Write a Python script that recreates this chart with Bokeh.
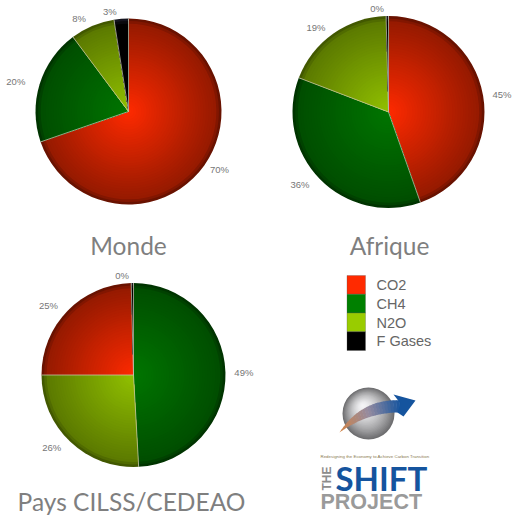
import math
from bokeh.plotting import figure
from bokeh.models import Range1d
from bokeh.core.properties import value
from bokeh.embed import file_html
from bokeh.resources import INLINE

# ---- data ----
gases = ["CO2", "CH4", "N2O", "F Gases"]
monde_gases = ["CO2", "CH4", "N2O", "F Gases"]
monde_values = [69.7, 20.1, 7.7, 2.5]
monde_labels = ["70%", "20%", "8%", "3%"]
afrique_gases = ["CO2", "CH4", "N2O", "F Gases"]
afrique_values = [44.6, 36.2, 18.8, 0.4]
afrique_labels = ["45%", "36%", "19%", "0%"]
cilss_gases = ["CH4", "N2O", "CO2", "F Gases"]
cilss_values = [49.1, 25.9, 24.6, 0.4]
cilss_labels = ["49%", "26%", "25%", "0%"]
titles = ["Monde", "Afrique", "Pays CILSS/CEDEAO"]

# ---- styles ----
STOPS = {
    "CO2": ((255, 42, 0), (150, 26, 0), (105, 18, 0)),
    "CH4": ((0, 118, 0), (0, 78, 0), (0, 52, 0)),
    "N2O": ((146, 194, 0), (92, 122, 0), (66, 88, 0)),
    "F Gases": ((0, 0, 0), (0, 0, 0), (20, 20, 30)),
}
SWATCH = {"CO2": "#ff2a00", "CH4": "#008000", "N2O": "#99cc00", "F Gases": "#000000"}
W, H = 513, 515
Y = lambda y: 515 - y

p = figure(width=W, height=H, output_backend="svg", toolbar_location=None,
           x_range=Range1d(0, W), y_range=Range1d(0, H),
           min_border=0, outline_line_color=None)
p.axis.visible = False
p.grid.visible = False
p.background_fill_color = "#ffffff"
p.border_fill_color = "#ffffff"


def col(stops, t):
    a, b, c = stops
    if t < 0.95:
        u = t / 0.95
        v = [a[i] + (b[i] - a[i]) * u for i in range(3)]
    else:
        u = (t - 0.95) / 0.05
        v = [b[i] + (c[i] - b[i]) * u for i in range(3)]
    return "#%02x%02x%02x" % tuple(int(round(x)) for x in v)


def pie(cx, cy, r, names, vals, labels):
    total = sum(vals)
    cy_d = Y(cy)
    start = 0.0
    bounds = []
    for name, v, lab in zip(names, vals, labels):
        end = start + v / total * 360
        # clockwise from 12 o'clock
        a0 = math.radians(90 - end)
        a1 = math.radians(90 - start)
        N = 36
        for k in range(N, 0, -1):
            t = k / N
            p.wedge(x=[cx], y=[cy_d], radius=r * t, start_angle=a0, end_angle=a1,
                    fill_color=col(STOPS[name], t), line_color=None)
        mid = math.radians((start + end) / 2)
        sx, cs = math.sin(mid), math.cos(mid)
        shift = 10 if -0.2 < sx < 0 else (6 if sx < 0 else 0)
        lx = cx + 1.2 * r * sx - shift
        ly = cy_d + 1.08 * r * cs
        p.text(x=[lx], y=[ly], text=[lab], text_align="center", text_baseline="middle",
               text_font=value("Liberation Sans"), text_font_size="9.5px", text_color="#767676")
        bounds.append(start)
        start = end
    for s in bounds:
        a = math.radians(s)
        p.segment(x0=[cx], y0=[cy_d], x1=[cx + r * math.sin(a)], y1=[cy_d + r * math.cos(a)],
                  line_color="#c8c8b0", line_alpha=0.75, line_width=1)


pie(128, 111, 93, monde_gases, monde_values, monde_labels)
pie(388, 111.5, 96, afrique_gases, afrique_values, afrique_labels)
pie(133, 374.5, 92, cilss_gases, cilss_values, cilss_labels)

# ---- titles ----
for t, x, y in zip(titles, [128, 389, 131], [245, 245, 501]):
    p.text(x=[x], y=[Y(y)], text=[t], text_align="center", text_baseline="middle",
           text_font=value("Lato"), text_font_size="24.5px", text_color="#7f7f7f")

# ---- legend ----
for i, g in enumerate(gases):
    top = 275 + i * 18.75
    p.quad(left=[346.5], right=[365], top=[Y(top)], bottom=[Y(top + 18.75)],
           fill_color=SWATCH[g], line_color="#555555", line_alpha=0.5, line_width=0.6)
    p.text(x=[376], y=[Y(top + 9.5)], text=[g], text_align="left", text_baseline="middle",
           text_font=value("Liberation Sans"), text_font_size="14.5px", text_color="#666666")

# ---- logo ----
for k in range(26, 0, -1):
    t = k / 26
    g = int(245 - 135 * t ** 1.6)
    p.circle(x=[368 - 6 * (1 - t)], y=[Y(413 - 8 * (1 - t))], radius=26 * t,
             fill_color="#%02x%02x%02x" % (g, g, g + 2), line_color=None)

def bez(t, a, b, c):
    return ((1 - t) ** 2 * a[0] + 2 * t * (1 - t) * b[0] + t * t * c[0],
            (1 - t) ** 2 * a[1] + 2 * t * (1 - t) * b[1] + t * t * c[1])

n = 24
for i in range(n):
    t0, t1 = i / n, (i + 1.15) / n
    a0 = bez(t0, (339, 432), (362, 397), (402, 400))
    a1 = bez(t1, (339, 432), (362, 397), (402, 400))
    b1 = bez(t1, (339, 432), (368, 411), (402, 412))
    b0 = bez(t0, (339, 432), (368, 411), (402, 412))
    u = i / (n - 1)
    if u < 0.5:
        v = u * 2
        c = (int(208 + (150 - 208) * v), int(130 + (140 - 130) * v), int(70 + (160 - 70) * v))
    else:
        v = (u - 0.5) * 2
        c = (int(150 + (21 - 150) * v), int(140 + (84 - 140) * v), int(160 + (158 - 160) * v))
    p.patch(x=[a0[0], a1[0], b1[0], b0[0]], y=[Y(a0[1]), Y(a1[1]), Y(b1[1]), Y(b0[1])],
            fill_color="#%02x%02x%02x" % c, line_color=None)
p.patch(x=[393, 415, 403, 397, 400], y=[Y(394), Y(400), Y(416), Y(412), Y(403)],
        fill_color="#15549e", line_color=None)

p.text(x=[320], y=[Y(455.5)], text=["Redesigning the Economy to Achieve Carbon Transition"],
       text_align="left", text_baseline="middle", text_font=value("Liberation Sans"),
       text_font_size="4.4px", text_color="#8a7a50")
p.text(x=[335], y=[Y(477)], text=["SHIFT"], text_align="left", text_baseline="middle",
       text_font=value("Lato"), text_font_style="bold",
       text_font_size="33px", text_color="#15549e")
p.text(x=[326], y=[Y(478)], text=["THE"], text_align="center", text_baseline="middle", angle=math.pi / 2,
       text_font=value("Liberation Sans"), text_font_style="bold",
       text_font_size="12px", text_color="#8c8c8c")
p.text(x=[320], y=[Y(501.5)], text=["PROJECT"], text_align="left", text_baseline="middle",
       text_font=value("Liberation Sans"), text_font_style="bold",
       text_font_size="21.5px", text_color="#9a9a9a")

open("out.html", "w").write(file_html(p, INLINE))
